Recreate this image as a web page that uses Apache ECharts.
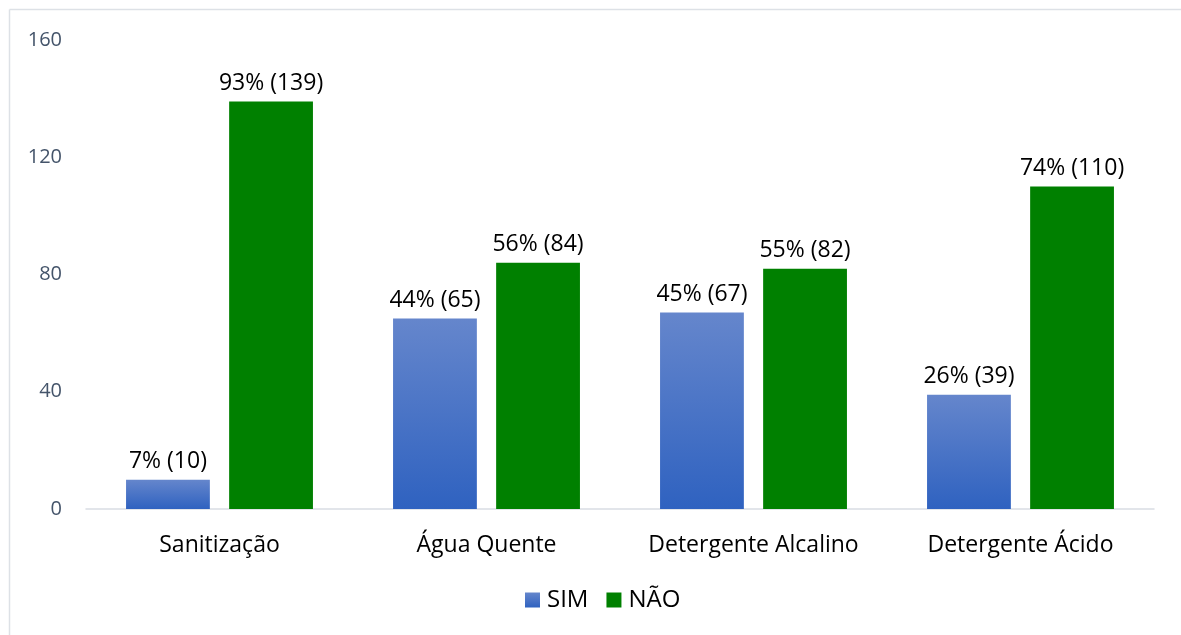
<!DOCTYPE html>
<html>
<head>
<meta charset="utf-8">
<script src="https://cdn.jsdelivr.net/npm/echarts@6/dist/echarts.min.js"></script>
<style>
  html, body { margin: 0; padding: 0; background: #ffffff; }
  #chart { width: 1181px; height: 635px; }
</style>
</head>
<body>
<div id="chart"></div>
<script>
// Categories and counts per answer
const categories = ['Sanitização', 'Água Quente', 'Detergente Alcalino', 'Detergente Ácido'];
const simValues = [10, 65, 67, 39];
const naoValues = [139, 84, 82, 110];
const simPercent = [7, 44, 45, 26];
const naoPercent = [93, 56, 55, 74];
const yTicks = [0, 40, 80, 120, 160];

const FONT = '"Open Sans", "Noto Sans", sans-serif';

const chart = echarts.init(document.getElementById('chart'), null, { renderer: 'canvas' });

function labelFor(percents) {
  return {
    show: true,
    position: 'top',
    distance: 7,
    color: '#000000',
    fontFamily: FONT,
    fontSize: 23,
    formatter: (p) => percents[p.dataIndex] + '% (' + p.value + ')'
  };
}

chart.setOption({
  animation: false,
  backgroundColor: '#ffffff',
  graphic: [
    { type: 'line', shape: { x1: 9.5, y1: 9.5, x2: 1181, y2: 9.5 }, style: { stroke: '#dde1e6', lineWidth: 1.5 } },
    { type: 'line', shape: { x1: 9.5, y1: 9.5, x2: 9.5, y2: 635 }, style: { stroke: '#dde1e6', lineWidth: 1.5 } }
  ],
  grid: { left: 86, right: 27, top: 40, bottom: 126, containLabel: false },
  legend: {
    bottom: 18,
    left: 520,
    itemWidth: 15,
    itemHeight: 15,
    itemGap: 18,
    icon: 'rect',
    textStyle: { fontFamily: FONT, fontSize: 24, color: '#000000', padding: [0, 0, 0, 2] },
    data: ['SIM', 'NÃO']
  },
  xAxis: {
    type: 'category',
    data: categories,
    axisLine: { show: true, lineStyle: { color: '#d9dde3', width: 1.5 } },
    axisTick: { show: false },
    axisLabel: { interval: 0, hideOverlap: false, fontFamily: FONT, fontSize: 23, color: '#000000', margin: 25 }
  },
  yAxis: {
    type: 'value',
    min: 0,
    max: 160,
    interval: 40,
    axisLine: { show: false },
    axisTick: { show: false },
    splitLine: { show: false },
    axisLabel: {
      fontFamily: FONT, fontSize: 20, color: '#44546a', margin: 24,
      formatter: (v) => yTicks.includes(v) ? String(v) : ''
    }
  },
  series: [
    {
      name: 'SIM',
      type: 'bar',
      data: simValues,
      barGap: '23%',
      barCategoryGap: '30%',
      itemStyle: {
        color: new echarts.graphic.LinearGradient(0, 0, 0, 1, [
          { offset: 0, color: '#6586cc' },
          { offset: 1, color: '#2f62c0' }
        ])
      },
      label: labelFor(simPercent)
    },
    {
      name: 'NÃO',
      type: 'bar',
      data: naoValues,
      itemStyle: { color: '#008000' },
      label: labelFor(naoPercent)
    }
  ]
});
</script>
</body>
</html>
